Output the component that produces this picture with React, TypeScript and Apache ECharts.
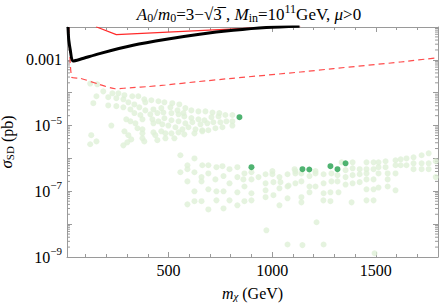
import React, { useEffect, useRef } from 'react';
import * as echarts from 'echarts';

const SERIF = '"Liberation Serif", "Times New Roman", "DejaVu Serif", serif';
const FRAME = '#9a9a9a';

const X_MIN = 10;
const X_MAX = 1800;
const Y_MIN = 1e-9;
const Y_MAX = 1e-2;

const X_LABELS = [500, 1000, 1500];
const X_MINOR = [100, 200, 300, 400, 500, 600, 700, 800, 900, 1000, 1100, 1200, 1300, 1400, 1500, 1600, 1700, 1800];
const Y_LABEL_EXPONENTS = [-9, -7, -5, -3];
const Y_MINOR_DECADES = [-9, -8, -7, -6, -5, -4, -3];
const Y_MINOR_MULT = [2, 3, 4, 5, 6, 7, 8, 9];

// thick black limit curve [m_chi (GeV), sigma_SD (pb)]
const limitCurve: [number, number][] = [
  [14.8, 1.0e-2], [16.3, 6.4e-3], [18.7, 3.94e-3], [25.9, 1.99e-3], [39, 9.2e-4], [74, 1.04e-3],
  [167, 1.55e-3], [329, 2.77e-3], [490, 4.22e-3], [650, 6.0e-3], [812, 7.9e-3], [972, 9.6e-3], [1132, 1.05e-2],
];

// thin red solid curve
const redSolid: [number, number][] = [
  [150, 1.02e-2], [248, 5.87e-3], [943, 9.6e-3], [1137, 1.08e-2],
];

// red dashed curve
const redDashed: [number, number][] = [
  [18.7, 1.0e-2], [33, 2.95e-4], [74, 2.75e-4], [161, 1.84e-4], [243, 1.32e-4], [325, 1.43e-4],
  [403, 1.54e-4], [485, 1.72e-4], [644, 2.18e-4], [808, 2.75e-4], [1137, 4.27e-4], [1296, 5.42e-4],
  [1620, 8.6e-4], [1800, 1.17e-3],
];

// light green scan points
const scanPoints: [number, number][] = [
  [122, 1.9e-4], [156, 1.8e-4], [185, 1.1e-4], [229, 9.6e-5], [258, 9.6e-5], [287, 8.4e-5], [325, 7.8e-5], [354, 7.8e-5],
  [152, 7.8e-5], [137, 4.8e-5], [209, 7.3e-5], [248, 6.8e-5], [282, 6.3e-5], [306, 5.1e-5], [335, 4.4e-5], [383, 6.3e-5],
  [388, 5.1e-5], [417, 5.9e-5], [451, 5.5e-5], [480, 5.1e-5], [518, 4.8e-5], [552, 4.4e-5], [581, 3.4e-5], [610, 2.9e-5],
  [644, 2.7e-5], [678, 2.7e-5], [712, 2.5e-5], [745, 2.4e-5], [774, 2.1e-5], [808, 2.1e-5],
  [209, 4.1e-5], [248, 3.9e-5], [282, 3.6e-5], [316, 3.1e-5], [359, 3.6e-5], [388, 2.9e-5], [427, 3.1e-5], [465, 3.4e-5],
  [509, 3.6e-5], [543, 2.9e-5], [572, 2.4e-5],
  [335, 2.4e-5], [364, 2.1e-5], [412, 2.2e-5], [446, 2.4e-5], [475, 2.5e-5], [514, 2.4e-5], [548, 2.2e-5], [576, 1.9e-5],
  [610, 1.7e-5], [644, 1.55e-5], [673, 1.45e-5], [707, 1.8e-5], [741, 1.9e-5], [779, 1.35e-5], [808, 1.35e-5],
  [296, 1.55e-5], [316, 1.35e-5], [340, 1.17e-5], [374, 1.55e-5], [422, 1.55e-5], [451, 1.35e-5], [480, 1.67e-5],
  [514, 1.45e-5], [548, 1.35e-5], [581, 1.17e-5], [615, 1.26e-5], [654, 1.09e-5], [687, 1.17e-5], [716, 1.26e-5],
  [750, 1.26e-5], [808, 1.0e-5],
  [224, 1.0e-5], [350, 8.3e-6], [374, 7.7e-6], [427, 1.17e-5], [470, 1.09e-5], [499, 1.0e-5], [533, 8.9e-6], [567, 7.7e-6],
  [596, 8.9e-6], [630, 7.7e-6], [663, 7.2e-6], [692, 7.2e-6], [726, 8.3e-6], [760, 8.9e-6],
  [287, 6.7e-6], [306, 5.1e-6], [374, 5.8e-6], [427, 6.2e-6], [465, 6.7e-6], [485, 5.8e-6], [514, 5.8e-6], [548, 6.2e-6],
  [576, 5.4e-6], [625, 5.8e-6], [663, 6.7e-6],
  [127, 5.1e-6], [152, 3.3e-6], [122, 2.7e-6], [282, 2.5e-6], [320, 3.8e-6], [301, 3.1e-6], [374, 4.1e-6], [383, 3.3e-6],
  [436, 5.1e-6], [446, 3.6e-6], [485, 4.1e-6], [528, 4.1e-6],
  [557, 1.25e-6], [625, 1.0e-6], [591, 6.2e-7], [591, 4.7e-7], [663, 6.2e-7], [692, 6.2e-7], [731, 5.4e-7], [760, 5.8e-7],
  [794, 4.7e-7], [832, 5.4e-7],
  [557, 3.8e-7], [625, 3.8e-7], [659, 2.7e-7], [692, 3.5e-7], [726, 2.3e-7], [765, 2.9e-7], [794, 1.75e-7], [832, 2.7e-7],
  [866, 3.5e-7], [900, 3.8e-7], [934, 2.7e-7], [968, 3.3e-7], [1001, 4.1e-7], [1001, 3.3e-7], [1035, 2.7e-7], [1074, 3.3e-7],
  [861, 2.3e-7], [900, 2.3e-7], [968, 1.75e-7], [1006, 1.9e-7], [1040, 1.9e-7],
  [591, 2.0e-7], [659, 2.0e-7], [625, 1.0e-7], [692, 1.15e-7], [731, 1.0e-7], [765, 1.0e-7], [832, 9.3e-8], [866, 1.4e-7],
  [900, 8.7e-8], [968, 1.07e-7], [1035, 1.23e-7], [1074, 1.4e-7],
  [591, 4.0e-8], [625, 5.0e-8], [659, 5.0e-8], [692, 2.8e-8], [731, 5.3e-8], [765, 3.0e-8], [794, 5.3e-8], [832, 3.75e-8],
  [866, 5.0e-8], [900, 5.3e-8], [968, 6.6e-8], [1006, 7.6e-8], [1035, 3.75e-8], [1074, 6.1e-8],
  [972, 6.5e-9], [1074, 2.4e-9],
  [1108, 4.7e-7], [1112, 4.1e-7], [1112, 3.5e-7], [1079, 1.5e-7], [1112, 1.75e-7], [1141, 3.5e-7], [1141, 2.0e-7],
  [1180, 2.9e-7], [1180, 1.4e-7], [1209, 4.1e-7], [1209, 3.5e-7], [1209, 1.4e-7], [1248, 3.3e-7], [1286, 3.5e-7],
  [1286, 2.0e-7], [1315, 3.1e-7], [1315, 2.0e-7], [1354, 4.4e-7], [1354, 2.7e-7], [1354, 1.6e-7], [1335, 7.6e-7],
  [1388, 7.6e-7], [1388, 5.0e-7], [1388, 3.1e-7], [1388, 1.75e-7], [1422, 4.7e-7], [1422, 3.3e-7], [1422, 1.9e-7],
  [1455, 7.6e-7], [1455, 4.7e-7], [1455, 3.5e-7], [1455, 2.3e-7], [1455, 1.15e-7], [1489, 7.6e-7], [1489, 4.7e-7],
  [1489, 2.3e-7], [1489, 1.15e-7], [1513, 7.6e-7], [1513, 5.4e-7], [1513, 3.5e-7], [1513, 1.3e-7], [1547, 8.2e-7],
  [1547, 5.4e-7], [1557, 3.5e-7], [1557, 2.3e-7], [1557, 1.4e-7], [1595, 8.8e-7], [1595, 6.2e-7], [1595, 3.5e-7],
  [1595, 1.07e-7], [1620, 9.4e-7], [1620, 6.2e-7], [1648, 1.0e-6], [1648, 6.2e-7], [1682, 1.08e-6], [1682, 7.1e-7],
  [1682, 4.7e-7], [1721, 1.25e-6], [1721, 7.1e-7], [1721, 4.7e-7], [1755, 1.43e-6], [1755, 7.1e-7], [1755, 4.7e-7],
  [1789, 8.2e-7], [1789, 2.7e-7],
  [1320, 9.3e-8], [1383, 4.6e-8], [1248, 1.75e-7], [1248, 8.7e-8], [1281, 9.3e-8], [1180, 9.3e-8], [1141, 6.6e-8],
  [1141, 4.6e-8], [1247, 5.3e-8], [1281, 5.0e-8], [1455, 5.3e-8], [1489, 5.3e-8],
  [1214, 1.14e-8], [1146, 2.3e-9], [1248, 2.4e-9], [1494, 1.3e-9],
];

// dark green highlighted points
const highlightPoints: [number, number][] = [
  [842, 1.8e-5], [900, 5.4e-7], [1146, 4.7e-7], [1179, 4.6e-7], [1281, 5.8e-7], [1315, 4.7e-7], [1354, 7.1e-7],
];

export default function App() {
  const ref = useRef<HTMLDivElement>(null);

  useEffect(() => {
    if (!ref.current) return;
    const chart = echarts.init(ref.current, undefined, { renderer: 'svg' });

    const yMinor: [number, number][] = [];
    Y_MINOR_DECADES.forEach((e) => Y_MINOR_MULT.forEach((m) => yMinor.push([X_MIN, m * Math.pow(10, e)])));

    const txt = (size: number, extra: any = {}) => ({ fontSize: size, fontFamily: SERIF, color: '#000', fill: '#000', ...extra });

    const xAxisBase = {
      type: 'value',
      min: X_MIN,
      max: X_MAX,
      splitLine: { show: false },
    };
    const yAxisBase = {
      type: 'log',
      logBase: 10,
      min: Y_MIN,
      max: Y_MAX,
      splitLine: { show: false },
      minorTick: { show: false },
    };

    chart.setOption({
      animation: false,
      grid: { left: 67, right: 4, top: 27, bottom: 48, containLabel: false, outerBoundsMode: 'none' },
      xAxis: [
        {
          ...xAxisBase,
          position: 'bottom',
          axisLine: { show: true, lineStyle: { color: FRAME, width: 1 } },
          axisTick: { show: true, inside: true, length: 5, customValues: X_LABELS, lineStyle: { color: FRAME } },
          axisLabel: { show: true, customValues: X_LABELS, margin: 5, formatter: (v: number) => String(v), ...txt(16) },
          name: '{i|m}{s|χ}{n| (GeV)}',
          nameLocation: 'middle',
          nameGap: 28,
          nameTextStyle: {
            ...txt(16),
            rich: {
              i: txt(16, { fontStyle: 'italic', verticalAlign: 'bottom' }),
              s: txt(11, { fontStyle: 'italic', verticalAlign: 'bottom', padding: [3, 0, 0, 0] }),
              n: txt(16, { verticalAlign: 'bottom' }),
            },
          },
        },
        {
          ...xAxisBase,
          position: 'top',
          axisLine: { show: true, lineStyle: { color: FRAME, width: 1 } },
          axisTick: { show: true, inside: true, length: 5, customValues: X_LABELS, lineStyle: { color: FRAME } },
          axisLabel: { show: false },
        },
        {
          ...xAxisBase,
          position: 'bottom',
          axisLine: { show: false },
          axisTick: { show: true, inside: true, length: 3, customValues: X_MINOR, lineStyle: { color: FRAME } },
          axisLabel: { show: false },
        },
        {
          ...xAxisBase,
          position: 'top',
          axisLine: { show: false },
          axisTick: { show: true, inside: true, length: 3, customValues: X_MINOR, lineStyle: { color: FRAME } },
          axisLabel: { show: false },
        },
      ],
      yAxis: [
        {
          ...yAxisBase,
          position: 'left',
          axisLine: { show: true, lineStyle: { color: FRAME, width: 1 } },
          axisTick: { show: true, inside: true, length: 5, lineStyle: { color: FRAME } },
          axisLabel: {
            show: true,
            margin: 5,
            ...txt(16),
            formatter: (v: number) => {
              const e = Math.round(Math.log10(v));
              if (!Y_LABEL_EXPONENTS.includes(e)) return '';
              if (e === -3) return '{b|0.001}';
              return `{b|10}{s|\u2212${-e}}`;
            },
            rich: {
              b: txt(16),
              s: txt(11, { padding: [0, 0, 12, 0] }),
            },
          },
          name: '{i|σ}{s|SD}{n| (pb)}',
          nameLocation: 'middle',
          nameGap: 42,
          nameRotate: 90,
          nameTextStyle: {
            ...txt(16, { lineHeight: 18 }),
            rich: {
              i: txt(17, { fontStyle: 'italic', lineHeight: 18, verticalAlign: 'bottom' }),
              s: txt(11, { lineHeight: 12, verticalAlign: 'bottom' }),
              n: txt(16, { lineHeight: 18, verticalAlign: 'bottom' }),
            },
          },
        },
        {
          ...yAxisBase,
          position: 'right',
          axisLine: { show: true, lineStyle: { color: FRAME, width: 1 } },
          axisTick: { show: true, inside: true, length: 5, lineStyle: { color: FRAME } },
          axisLabel: { show: false },
        },
      ],
      graphic: [
        {
          type: 'text',
          x: 249,
          y: 14,
          silent: true,
          style: {
            text: '{i|A}{sub|0}{n|/}{i|m}{sub|0}{n|=3\u2212\u221A3\u0305 , }{i|M}{sub|in}{n|=10}{sup|11}{n|GeV, }{i|μ}{n|>0}',
            align: 'center',
            verticalAlign: 'middle',
            textAlign: 'center',
            textVerticalAlign: 'middle',
            fill: '#000',
            font: `17px ${SERIF}`,
            rich: {
              i: txt(17, { fontStyle: 'italic' }),
              n: txt(17),
              sub: txt(12, { padding: [8, 0, 0, 0] }),
              sup: txt(12, { padding: [0, 0, 10, 0] }),
            },
          },
        },
      ],
      series: [
        {
          type: 'custom',
          xAxisIndex: 0,
          yAxisIndex: 0,
          silent: true,
          z: 1,
          data: yMinor,
          renderItem: (_params: any, api: any) => {
            const v = api.value(1);
            const pl = api.coord([X_MIN, v]);
            const pr = api.coord([X_MAX, v]);
            return {
              type: 'group',
              children: [
                { type: 'line', shape: { x1: pl[0], y1: pl[1], x2: pl[0] + 3, y2: pl[1] }, style: { stroke: FRAME, lineWidth: 1 } },
                { type: 'line', shape: { x1: pr[0] - 3, y1: pr[1], x2: pr[0], y2: pr[1] }, style: { stroke: FRAME, lineWidth: 1 } },
              ],
            };
          },
        },
        {
          type: 'scatter',
          data: scanPoints,
          symbolSize: 6,
          itemStyle: { color: '#dff0d7' },
          silent: true,
          z: 2,
        },
        {
          type: 'scatter',
          data: highlightPoints,
          symbolSize: 6,
          itemStyle: { color: '#23a04d' },
          silent: true,
          z: 3,
        },
        {
          type: 'line',
          data: redDashed,
          showSymbol: false,
          symbol: 'none',
          smooth: 0.2,
          lineStyle: { color: '#ff4d4d', width: 1.2, type: [6, 4] },
          silent: true,
          z: 4,
        },
        {
          type: 'line',
          data: redSolid,
          showSymbol: false,
          symbol: 'none',
          lineStyle: { color: '#ff2a2a', width: 1.2 },
          silent: true,
          z: 4,
        },
        {
          type: 'line',
          data: limitCurve,
          showSymbol: false,
          symbol: 'none',
          smooth: 0.3,
          lineStyle: { color: '#000', width: 3 },
          silent: true,
          z: 5,
        },
      ],
    });

    return () => chart.dispose();
  }, []);

  return <div ref={ref} style={{ position: 'absolute', left: 0, top: 0, width: 442, height: 305 }} />;
}
